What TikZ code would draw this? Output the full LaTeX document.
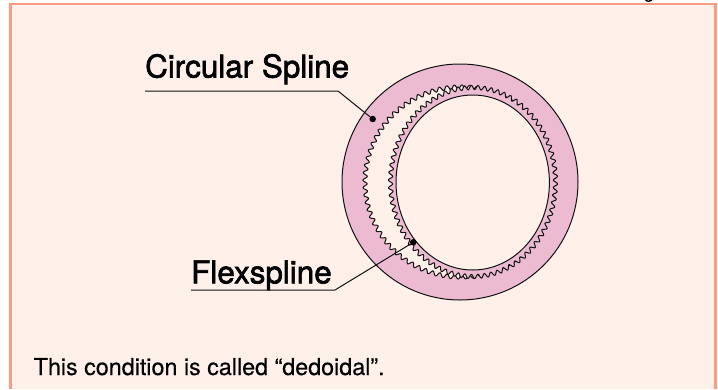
\documentclass[tikz,border=0pt]{standalone}
\usepackage{fontspec}
\setmainfont[FakeBold=0.3]{TeX Gyre Heros}
\newfontfamily\lblfont[FakeBold=2]{TeX Gyre Heros}
\usetikzlibrary{positioning,calc}
\definecolor{paper}{HTML}{FFF0EA}
\definecolor{frame}{HTML}{F99C84}
\definecolor{ring}{HTML}{ECBBD2}
\definecolor{ink}{HTML}{111111}
\tikzset{
  part/.style={draw=ink, line width=1pt, fill=ring, even odd rule},
  leader/.style={draw=ink, line width=1pt},
  tipdot/.style={circle, fill=black, inner sep=0pt, minimum size=6.5pt},
  lbl/.style={anchor=base west, inner sep=0pt, font=\lblfont\fontsize{31.4}{34}\selectfont},
  caption/.style={anchor=base west, inner sep=0pt, font=\fontsize{23.3}{26}\selectfont},
}
\newcommand{\teeth}[5]{plot[domain=0:#4, samples=#5]
  ({#1+(#2+2.1*sin(360*(\x-floor(\x))))*cos(360/#4*\x)},
   {182+(#3+2.1*sin(360*(\x-floor(\x))))*sin(360/#4*\x)}) -- cycle}
\begin{document}
\begin{tikzpicture}[x=1pt,y=-1pt]
  \useasboundingbox (0,0) rectangle (718,389);
  \fill[paper] (10.5,4) rectangle (715.7,389);
  \draw[frame, line width=2.8pt] (10.5,389) -- (10.5,4) -- (715.7,4) -- (715.7,389);
  \node[anchor=base, inner sep=0pt, font=\fontsize{18}{20}\selectfont] (cutoff) at (649,-2) {g};
  % circular spline, then flexspline over it
  \path[part] (460,182) circle (118) \teeth{460}{95}{95}{80}{961};
  \path[part] \teeth{473}{82.5}{94.5}{78}{937} (472.7,182.5) ellipse (76.7 and 87.5);
  \node[tipdot] (csDot) at (372.7,119) {};
  \node[tipdot] (fsDot) at (413.3,242.3) {};
  \node[lbl] (csLabel) at (145,77.5) {Circular Spline};
  \node[lbl] (fsLabel) at (191,283.3) {Flexspline};
  \coordinate (csStart) at (145,91);
  \coordinate (csBend) at (338,91);
  \coordinate (fsStart) at (191,290);
  \coordinate (fsBend) at (335,290);
  \draw[leader] (csStart) -- (csBend) -- (csDot);
  \draw[leader] (fsStart) -- (fsBend) -- (fsDot);
  \node[caption] (note) at (33.5,375) {This condition is called “dedoidal”.};
\end{tikzpicture}
\end{document}
